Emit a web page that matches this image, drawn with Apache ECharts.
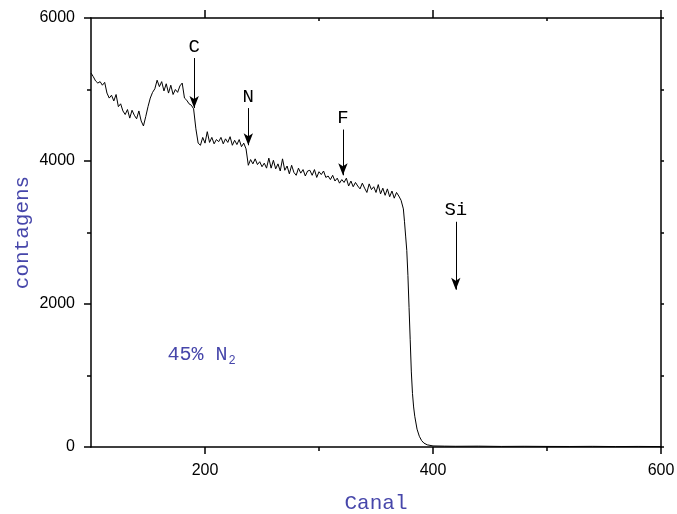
<!DOCTYPE html>
<html>
<head>
<meta charset="utf-8">
<script src="https://cdn.jsdelivr.net/npm/echarts@6/dist/echarts.min.js"></script>
<style>html,body{margin:0;padding:0;background:#fff}#c{width:677px;height:514px}</style>
</head>
<body>
<div id="c"></div>
<script>
// ---- data ----
const channels = [100,102,104,106,108,110,112,114,116,118,120,122,124,126,128,130,132,134,136,138,140,142,144,146,148,150,
152,154,156,158,160,162,164,166,168,170,172,174,176,178,180,182,184,186,188,190,192,194,196,198,200,
202,204,206,208,210,212,214,216,218,220,222,224,226,228,230,232,234,236,238,240,242,244,246,248,250,
252,254,256,258,260,262,264,266,268,270,272,274,276,278,280,282,284,286,288,290,292,294,296,298,300,
302,304,306,308,310,312,314,316,318,320,322,324,326,328,330,332,334,336,338,340,342,344,346,348,350,
352,354,356,358,360,362,364,366,368,370,372,374,375,376,377,378,379,380,381,382,383,384,386,388,390,392,395,
400,410,420,440,460,480,500,520,540,560,580,600];
const counts = [5230,5180,5120,5090,5110,5060,5100,4950,4880,4920,4840,4930,4760,4800,4700,4650,4720,4600,4710,4640,4590,4700,4560,4490,4620,4760,
4880,4960,5010,5130,5040,5110,4980,5080,4950,5060,4930,5000,4960,5050,5090,4880,4850,4800,4780,4730,4450,4250,4220,4330,4250,
4410,4260,4330,4240,4300,4270,4330,4240,4310,4260,4340,4220,4290,4230,4300,4200,4250,4170,3940,4020,3960,4030,3950,3990,3920,
3970,3900,4040,3900,4010,3890,3960,3860,4030,3870,3930,3820,3940,3840,3800,3900,3830,3880,3790,3860,3870,3800,3880,3770,3850,
3810,3860,3770,3790,3740,3800,3720,3760,3690,3740,3700,3760,3650,3720,3640,3700,3650,3610,3690,3620,3560,3680,3600,3640,3560,
3670,3540,3620,3520,3610,3500,3580,3480,3560,3510,3450,3330,3150,2950,2750,2400,1950,1500,1050,750,560,430,250,150,90,55,30,
15,12,10,12,8,10,8,7,9,6,8,6];

const xTickValues = [200,400,600];
const xMinorValues = [300,500];
const yTickValues = [0,2000,4000,6000];

// annotations: element label, channel, arrow top count, arrow tip count
const elemLabels = ['C','N','F','Si'];
const elemChannel = [190.5,238,321,420];
const elemTop = [5440,4740,4440,3150];
const elemTip = [4740,4220,3800,2200];

const sampleText = ['45% N','2'];
const samplePos = [197,1290];

const blue = '#4646aa';
const chart = echarts.init(document.getElementById('c'));

const lineData = channels.map((c,i)=>[c,counts[i]]);
const arrows = elemLabels.map((n,i)=>[
  {name:n, coord:[elemChannel[i], elemTop[i]]},
  {coord:[elemChannel[i], elemTip[i]]}
]);

const baseX = {type:'value', min:100, max:600, gridIndex:0};
chart.setOption({
  animation:false,
  backgroundColor:'#fff',
  grid:{left:91,right:16,top:18,bottom:67,containLabel:false,outerBoundsMode:'none'},
  xAxis:[
    Object.assign({}, baseX, {
      position:'bottom',
      name:'Canal', nameLocation:'middle', nameGap:46, nameMoveOverlap:false,
      nameTextStyle:{fontFamily:'Liberation Mono', fontSize:21, color:blue},
      axisLine:{show:true, onZero:false, lineStyle:{color:'#000', width:1.5}},
      axisTick:{show:true, length:7, customValues:xTickValues, lineStyle:{color:'#000', width:1.5}},
      axisLabel:{customValues:xTickValues, margin:16, fontFamily:'Liberation Sans', fontSize:16, color:'#000'},
      splitLine:{show:false}
    }),
    Object.assign({}, baseX, {
      position:'bottom',
      axisLine:{show:false, onZero:false},
      axisTick:{show:true, length:4, customValues:xMinorValues, lineStyle:{color:'#000', width:1.5}},
      axisLabel:{show:false},
      splitLine:{show:false}
    }),
    Object.assign({}, baseX, {
      position:'top',
      axisLine:{show:true, onZero:false, lineStyle:{color:'#000', width:1.5}},
      axisTick:{show:true, length:8, customValues:xTickValues, lineStyle:{color:'#000', width:1.5}},
      axisLabel:{show:false},
      splitLine:{show:false}
    }),
    Object.assign({}, baseX, {
      position:'top',
      axisLine:{show:false, onZero:false},
      axisTick:{show:true, inside:true, length:3, customValues:xMinorValues, lineStyle:{color:'#000', width:1.5}},
      axisLabel:{show:false},
      splitLine:{show:false}
    })
  ],
  yAxis:[
    {
      type:'value', min:0, max:6000, interval:2000, position:'left',
      name:'contagens', nameLocation:'middle', nameGap:58, nameRotate:90, nameMoveOverlap:false,
      nameTextStyle:{fontFamily:'Liberation Mono', fontSize:21, color:blue},
      axisLine:{show:true, onZero:false, lineStyle:{color:'#000', width:1.5}},
      axisTick:{show:true, length:7, lineStyle:{color:'#000', width:1.5}},
      minorTick:{show:true, splitNumber:2, length:4, lineStyle:{color:'#000', width:1.5}},
      axisLabel:{margin:16, fontFamily:'Liberation Sans', fontSize:16, color:'#000',
        formatter:v=> yTickValues.indexOf(v)>=0 ? String(v) : ''},
      splitLine:{show:false}
    },
    {
      type:'value', min:0, max:6000, interval:1000, position:'right',
      axisLine:{show:true, onZero:false, lineStyle:{color:'#000', width:1.5}},
      axisTick:{show:true, length:3, lineStyle:{color:'#000', width:1.5}},
      axisLabel:{show:false},
      splitLine:{show:false}
    }
  ],
  series:[
    {
      type:'line', data:lineData, xAxisIndex:0, yAxisIndex:0,
      showSymbol:false, symbol:'none',
      lineStyle:{color:'#000', width:1},
      markLine:{
        silent:true, symbol:['none','arrow'], symbolSize:[7,12], precision:4,
        lineStyle:{color:'#000', width:1, type:'solid'},
        label:{show:true, position:'start', distance:2, formatter:p=>p.name,
          fontFamily:'Liberation Mono', fontSize:19, color:'#000'},
        data:arrows
      },
      markPoint:{
        silent:true, symbol:'circle', symbolSize:0,
        data:[{coord:samplePos, value:0}],
        label:{show:true, position:'inside',
          formatter:'{a|'+sampleText[0]+'}{b|'+sampleText[1]+'}',
          rich:{
            a:{fontFamily:'Liberation Mono', fontSize:20, color:blue},
            b:{fontFamily:'Liberation Mono', fontSize:12, color:blue, padding:[12,0,0,1]}
          }
        }
      }
    }
  ]
});
</script>
</body>
</html>
